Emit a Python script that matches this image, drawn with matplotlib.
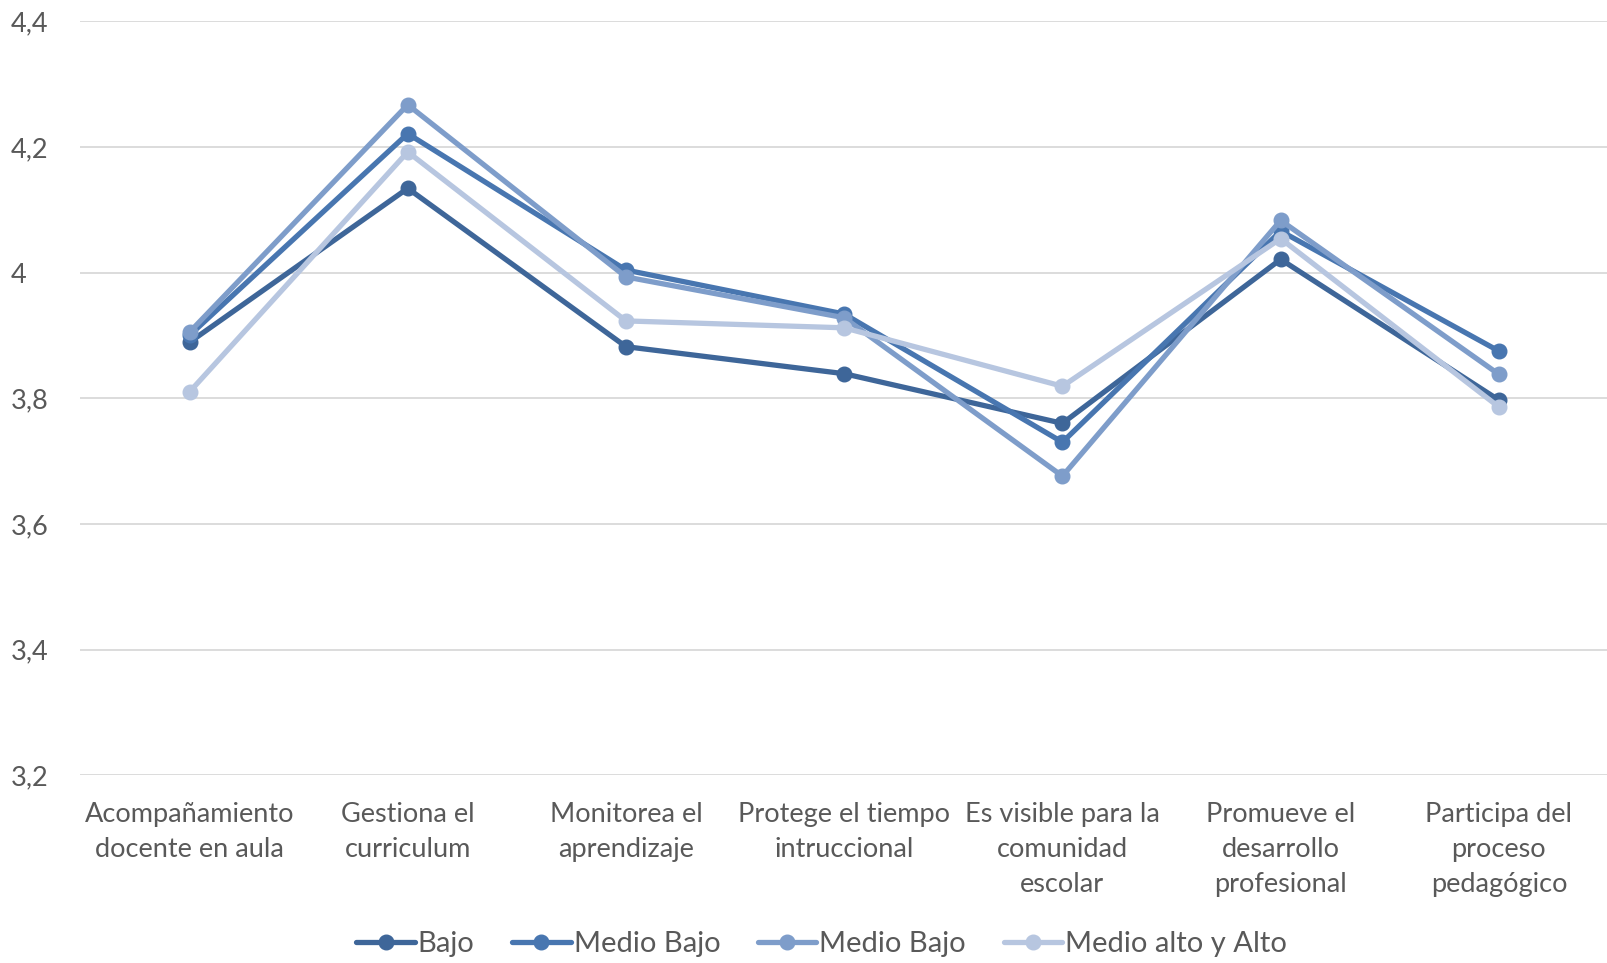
import matplotlib
matplotlib.use("Agg")
import matplotlib.pyplot as plt
from matplotlib.ticker import FixedLocator, FuncFormatter

categories = [
    "Acompañamiento\ndocente en aula",
    "Gestiona el\ncurriculum",
    "Monitorea el\naprendizaje",
    "Protege el tiempo\nintruccional",
    "Es visible para la\ncomunidad\nescolar",
    "Promueve el\ndesarrollo\nprofesional",
    "Participa del\nproceso\npedagógico",
]

series_names = ["Bajo", "Medio Bajo", "Medio Bajo", "Medio alto y Alto"]
bajo = [3.889, 4.134, 3.882, 3.839, 3.760, 4.021, 3.797]
medio_bajo_1 = [3.900, 4.221, 4.004, 3.934, 3.730, 4.066, 3.875]
medio_bajo_2 = [3.905, 4.267, 3.993, 3.928, 3.676, 4.083, 3.838]
medio_alto = [3.810, 4.192, 3.923, 3.912, 3.819, 4.054, 3.786]
series_values = [bajo, medio_bajo_1, medio_bajo_2, medio_alto]
colors = ["#3E6699", "#4876B0", "#7E9DCA", "#B7C6E0"]

yticks = [3.2, 3.4, 3.6, 3.8, 4.0, 4.2, 4.4]

plt.rcParams["font.family"] = ["Lato", "DejaVu Sans"]
text_color = "#595959"

fig = plt.figure(figsize=(16.08, 9.63), dpi=100)
ax = fig.add_axes([0.05, 0.195, 0.95, 0.783])

x = list(range(len(categories)))
for name, vals, c in zip(series_names, series_values, colors):
    ax.plot(x, vals, color=c, lw=3.8, marker="o", markersize=10.5,
            label=name, solid_capstyle="round", solid_joinstyle="round")

ax.set_xlim(-0.5, len(categories) - 0.5)
ax.set_ylim(3.2, 4.4)
ax.yaxis.set_major_locator(FixedLocator(yticks))

def fmt(v, pos):
    s = f"{v:.1f}"
    if s.endswith(".0"):
        s = s[:-2]
    return s.replace(".", ",")

ax.yaxis.set_major_formatter(FuncFormatter(fmt))
ax.grid(axis="y", color="#D9D9D9", lw=1.3)
ax.set_axisbelow(True)
for sp in ax.spines.values():
    sp.set_visible(False)
ax.tick_params(axis="both", length=0, colors=text_color, labelsize=19.5)
ax.tick_params(axis="y", pad=50)
ax.tick_params(axis="x", pad=19)
ax.set_xticks(x)
ax.set_xticklabels(categories, linespacing=1.52)
for lbl in ax.get_yticklabels():
    lbl.set_horizontalalignment("left")

leg = fig.legend(loc="center", bbox_to_anchor=(0.511, 0.02), ncol=4, frameon=False,
                 fontsize=21, handlelength=2.0, handletextpad=0.1, columnspacing=1.3,
                 labelcolor=text_color)

fig.savefig("out.png", dpi=100)
